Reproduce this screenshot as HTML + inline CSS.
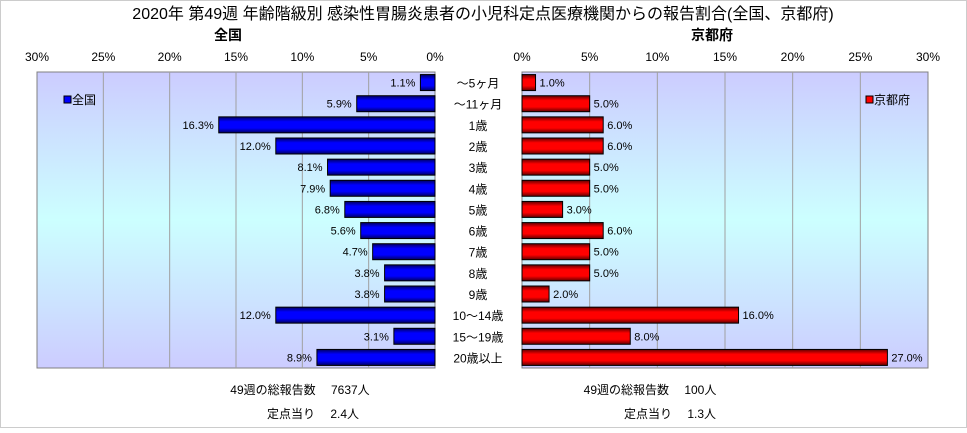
<!DOCTYPE html>
<html><head><meta charset="utf-8"><style>
body{margin:0;background:#fff;}
svg text{font-family:"Liberation Sans","Noto Sans CJK JP",sans-serif;}
</style></head><body>
<svg width="967" height="428" xmlns="http://www.w3.org/2000/svg">
<defs>
<linearGradient id="bg" x1="0" y1="0" x2="0" y2="1">
<stop offset="0" stop-color="#ccccff"/><stop offset="0.5" stop-color="#ccffff"/><stop offset="1" stop-color="#ccccff"/></linearGradient>
<linearGradient id="gb" x1="0" y1="0" x2="0" y2="1">
<stop offset="0" stop-color="#000060"/><stop offset="0.3" stop-color="#0000ff"/><stop offset="0.7" stop-color="#0000ff"/><stop offset="1" stop-color="#000060"/></linearGradient>
<linearGradient id="gr" x1="0" y1="0" x2="0" y2="1">
<stop offset="0" stop-color="#600000"/><stop offset="0.3" stop-color="#ff0000"/><stop offset="0.7" stop-color="#ff0000"/><stop offset="1" stop-color="#600000"/></linearGradient>
</defs>
<rect x="0.5" y="0.5" width="966" height="427" fill="#fff" stroke="#ccc"/>
<text x="483" y="19" font-size="16" text-anchor="middle">2020年 第49週 年齢階級別 感染性胃腸炎患者の小児科定点医療機関からの報告割合(全国、京都府)</text>
<text x="228" y="40" font-size="14" font-weight="bold" text-anchor="middle">全国</text>
<text x="712" y="40" font-size="14" font-weight="bold" text-anchor="middle">京都府</text>
<g id="g"></g>
<text x="300" y="394" font-size="12" text-anchor="middle">49週の総報告数　 7637人</text>
<text x="313" y="418" font-size="12" text-anchor="middle">定点当り　 2.4人</text>
<text x="650" y="394" font-size="12" text-anchor="middle">49週の総報告数　 100人</text>
<text x="670" y="418" font-size="12" text-anchor="middle">定点当り　 1.3人</text>
</svg>
<script>
const categories=["～5ヶ月","～11ヶ月","1歳","2歳","3歳","4歳","5歳","6歳","7歳","8歳","9歳","10～14歳","15～19歳","20歳以上"];
const national=[1.1,5.9,16.3,12.0,8.1,7.9,6.8,5.6,4.7,3.8,3.8,12.0,3.1,8.9];
const kyoto=[1.0,5.0,6.0,6.0,5.0,5.0,3.0,6.0,5.0,5.0,2.0,16.0,8.0,27.0];
const ticks=[0,5,10,15,20,25,30];
const NS="http://www.w3.org/2000/svg",grp=document.getElementById('g');
const plotTop=72,plotBot=368,rowH=(plotBot-plotTop)/categories.length;
const L0=435,L1=37,R0=522,R1=928;
const xl=v=>L0-(L0-L1)*v/30, xr=v=>R0+(R1-R0)*v/30;
function mk(t,a){const el=document.createElementNS(NS,t);for(const k in a)el.setAttribute(k,a[k]);grp.appendChild(el);return el;}
let e;
e=mk('rect',{x:L1,y:plotTop,width:L0-L1,height:plotBot-plotTop,fill:'url(#bg)',stroke:'#808080'});


e=mk('rect',{x:R0,y:plotTop,width:R1-R0,height:plotBot-plotTop,fill:'url(#bg)',stroke:'#808080'});


ticks.forEach(t=>{
 if(t>0&&t<30){
  e=mk('line',{x1:xl(t),x2:xl(t),y1:plotTop,y2:plotBot,stroke:'#a0a0a0','stroke-width':1});
  
  
  e=mk('line',{x1:xr(t),x2:xr(t),y1:plotTop,y2:plotBot,stroke:'#a0a0a0','stroke-width':1});
  
  }
 e=mk('text',{x:xl(t),y:61,'font-size':12,'text-anchor':'middle'});e.textContent=t+'%';
 
 
 e=mk('text',{x:xr(t),y:61,'font-size':12,'text-anchor':'middle'});e.textContent=t+'%';
 
 
});
categories.forEach((c,i)=>{
 const y=plotTop+i*rowH,bh=16,by=y+(rowH-bh)/2;
 e=mk('rect',{x:xl(national[i]),y:by,width:L0-xl(national[i]),height:bh,fill:'url(#gb)',stroke:'#000'});
 
 
 e=mk('text',{x:xl(national[i])-5,y:y+rowH/2+4,'font-size':11,'text-anchor':'end'});e.textContent=national[i].toFixed(1)+'%';
 
 
 e=mk('rect',{x:R0,y:by,width:xr(kyoto[i])-R0,height:bh,fill:'url(#gr)',stroke:'#000'});
 
 
 e=mk('text',{x:xr(kyoto[i])+4,y:y+rowH/2+4,'font-size':11});e.textContent=kyoto[i].toFixed(1)+'%';
 
 
 e=mk('text',{x:478,y:y+rowH/2+5,'font-size':12,'text-anchor':'middle'});e.textContent=c;
 
 
});
e=mk('rect',{x:64,y:96,width:7,height:7,fill:'#0000ff',stroke:'#000'});


e=mk('text',{x:72,y:104,'font-size':12});e.textContent='全国';


e=mk('rect',{x:866,y:96,width:7,height:7,fill:'#ff0000',stroke:'#000'});


e=mk('text',{x:874,y:104,'font-size':12});e.textContent='京都府';


</script>
</body></html>
